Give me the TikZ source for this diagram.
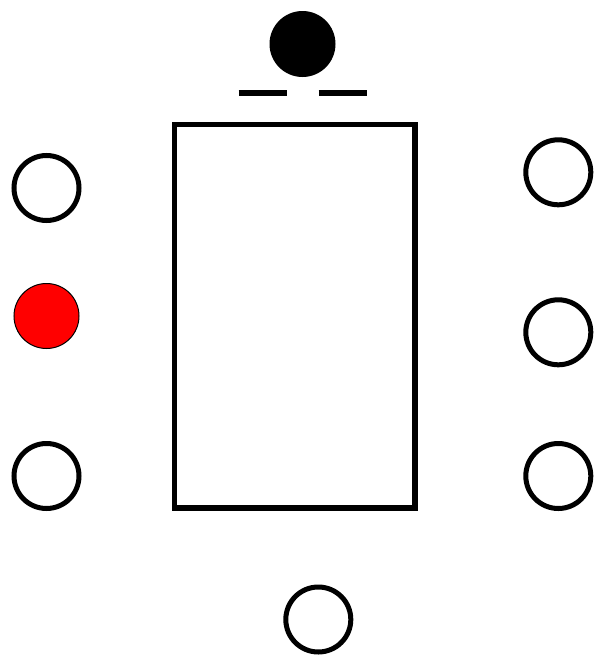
\documentclass[tikz,border=0pt]{standalone}
\usepackage{tikz}

\begin{document}
\begin{tikzpicture}[x=1pt,y=-1pt,
  seat/.style={circle,draw=black,line width=5pt,fill=white,minimum size=65pt,inner sep=0pt},
  redseat/.style={circle,draw=black,line width=1pt,fill=red,minimum size=65pt,inner sep=0pt},
  head/.style={circle,fill=black,minimum size=66pt,inner sep=0pt}]
\useasboundingbox (0,0) rectangle (598,656);
\node[draw,line width=5.5pt,minimum width=240.5pt,minimum height=383.5pt,inner sep=0pt] (table) at (294.75,316.25) {};
\node[head] (host) at (302.5,44) {};
\draw[line width=6pt] (238.5,92.5)--(286.5,92.5);
\draw[line width=6pt] (318.5,92.5)--(366.5,92.5);
\node[seat] (l1) at (46.5,188) {};
\node[redseat] (l2) at (46.5,316) {};
\node[seat] (l3) at (46.5,476) {};
\node[seat] (r1) at (558.3,172.3) {};
\node[seat] (r2) at (558.3,332.3) {};
\node[seat] (r3) at (558.3,476) {};
\node[seat] (b1) at (318.3,619.5) {};
\end{tikzpicture}
\end{document}
